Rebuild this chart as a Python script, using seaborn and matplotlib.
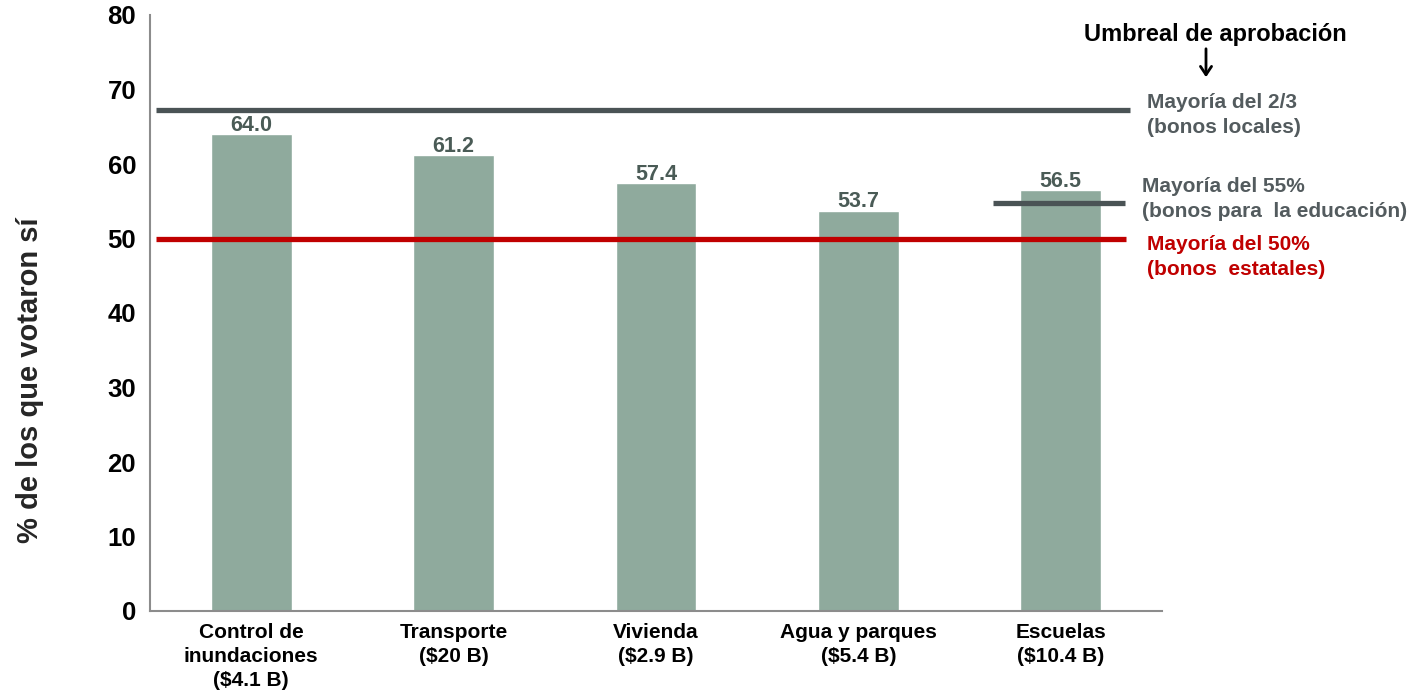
import matplotlib
matplotlib.use("Agg")
import matplotlib.pyplot as plt
import seaborn as sns
import pandas as pd

categories = ["Control de\ninundaciones\n($4.1 B)", "Transporte\n($20 B)", "Vivienda\n($2.9 B)",
              "Agua y parques\n($5.4 B)", "Escuelas\n($10.4 B)"]
values = [64.0, 61.2, 57.4, 53.7, 56.5]
value_labels = ["64.0", "61.2", "57.4", "53.7", "56.5"]
threshold_local = 67.2
threshold_edu = 54.8
threshold_state = 50.0
yticks = [0, 10, 20, 30, 40, 50, 60, 70, 80]

sns.set_style("white")
plt.rcParams['font.family'] = ['Liberation Sans', 'DejaVu Sans']
plt.rcParams['font.weight'] = 'bold'

W, H = 1411, 694
fig = plt.figure(figsize=(W / 100, H / 100), dpi=100)
ax = fig.add_axes([150 / W, (H - 611) / H, 1012 / W, 596 / H])

df = pd.DataFrame({"cat": categories, "val": values})
sns.barplot(data=df, x="cat", y="val", color="#8FAA9D", saturation=1, width=0.4, ax=ax)

ax.set_xlim(-0.5, 4.5)
ax.set_ylim(0, 80)
ax.set_yticks(yticks)
ax.set_yticklabels([str(t) for t in yticks], fontsize=18.5, fontweight='bold', color='black')
ax.set_xticks(range(len(categories)))
ax.set_xticklabels(categories, fontsize=15, fontweight='bold', color='black', linespacing=1.32, va='top')
ax.tick_params(axis='x', which='major', length=0, pad=9)
ax.set_xticks([i - 0.5 for i in range(len(categories) + 1)], minor=True)
ax.tick_params(axis='x', which='minor', length=5, width=1.5, color='#8c8c8c', direction='out')
ax.tick_params(axis='y', which='major', length=6, width=1.5, color='#8c8c8c', direction='out', pad=4)
ax.set_xlabel("")
ax.set_ylabel("% de los que votaron sí", fontsize=21, fontweight='bold', va='center')
ax.yaxis.set_label_coords((30 - 150) / 1012, (611 - 380) / 596)

for s in ['top', 'right']:
    ax.spines[s].set_visible(False)
for s in ['left', 'bottom']:
    ax.spines[s].set_color('#8c8c8c')
    ax.spines[s].set_linewidth(1.5)

for patch, lab in zip(ax.patches, value_labels):
    cx = patch.get_x() + patch.get_width() / 2
    top = patch.get_y() + patch.get_height()
    ax.annotate(lab, (cx, top), xytext=(0, 2.5), textcoords='offset points',
                ha='center', va='baseline', fontsize=15.5, fontweight='bold', color='#4a5b56')

ax.hlines(threshold_local, -0.47, 4.34, colors='#4a5355', linewidth=3.8, clip_on=False, zorder=3)
ax.hlines(threshold_edu, 3.665, 4.317, colors='#4a5355', linewidth=3.8, clip_on=False, zorder=3)
ax.hlines(threshold_state, -0.47, 4.32, colors='#c00000', linewidth=3.8, clip_on=False, zorder=3)

def ftxt(px, py, s, **kw):
    fig.text(px / W, 1 - py / H, s, **kw)

gray = '#535b5e'
red = '#c00000'
ftxt(1215, 34, "Umbreal de aprobación", fontsize=17, fontweight='bold', color='black', ha='center', va='center')
fig.add_artist(matplotlib.patches.FancyArrowPatch((1206 / W, 1 - 46 / H), (1206 / W, 1 - 80 / H),
               transform=fig.transFigure, arrowstyle='->,head_width=4,head_length=6',
               color='black', linewidth=2, mutation_scale=1))
ftxt(1147, 115, "Mayoría del 2/3\n(bonos locales)", fontsize=15, fontweight='bold', color=gray,
     ha='left', va='center', linespacing=1.35)
ftxt(1142, 199, "Mayoría del 55%\n(bonos para  la educación)", fontsize=15, fontweight='bold', color=gray,
     ha='left', va='center', linespacing=1.35)
ftxt(1147, 257, "Mayoría del 50%\n(bonos  estatales)", fontsize=15, fontweight='bold', color=red,
     ha='left', va='center', linespacing=1.35)

fig.savefig("out.png", dpi=100)
